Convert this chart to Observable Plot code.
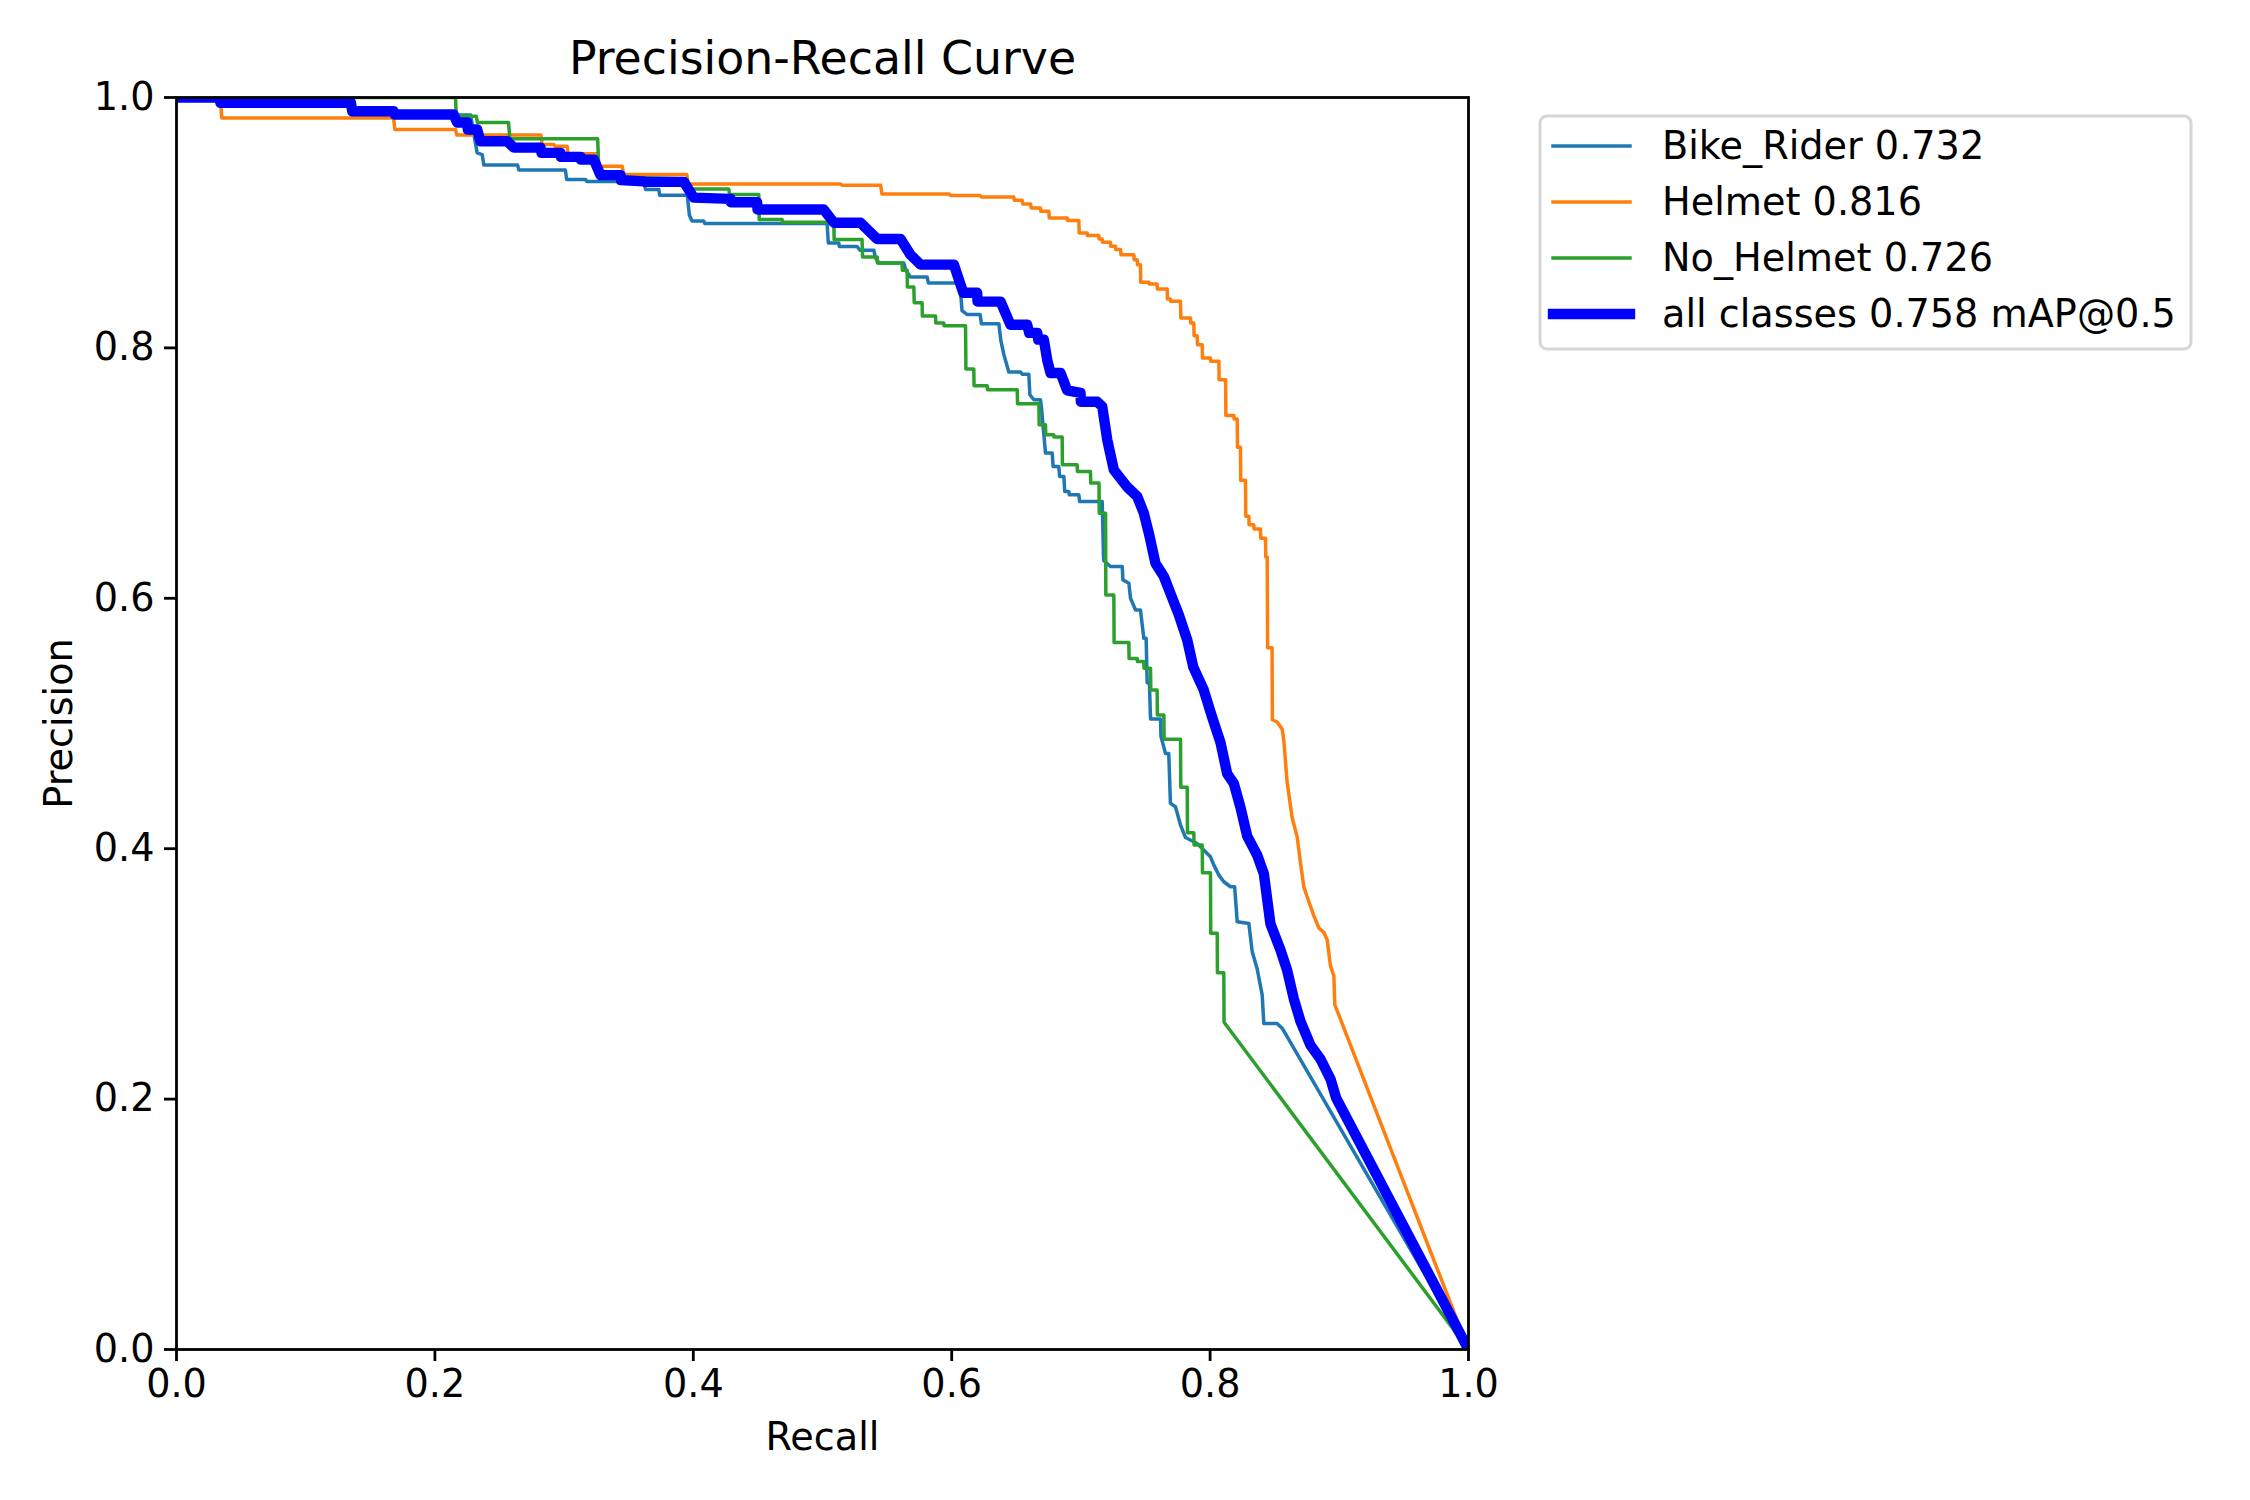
<!DOCTYPE html>
<html>
<head>
<meta charset="utf-8">
<script src="https://cdn.jsdelivr.net/npm/d3@7"></script>
<script src="https://cdn.jsdelivr.net/npm/@observablehq/plot@0.6"></script>
<style>
  html, body { margin: 0; padding: 0; background: white; }
  #chart { width: 2250px; height: 1500px; }
</style>
</head>
<body>
<div id="chart"></div>
<script>
// ---- Data (recall, precision) ----
const classNames = ["Bike_Rider", "Helmet", "No_Helmet"];
const classAP = [0.732, 0.816, 0.726];
const allClassesLabel = "all classes";
const allClassesMAP = 0.758;
const mapSuffix = "mAP@0.5";
const xTicks = [0, 0.2, 0.4, 0.6, 0.8, 1.0];
const yTicks = [0, 0.2, 0.4, 0.6, 0.8, 1.0];

const bikeRiderPR = [
[0,1],[0.135,1],[0.136,0.986],[0.2276,0.986],[0.2327,0.9558],[0.2366,0.9544],[0.2379,0.946],[0.264,0.946],[0.265,0.942],[0.301,0.942],[0.302,0.9345],[0.3166,0.9345],[0.3175,0.933],[0.362,0.933],[0.363,0.9265],[0.3733,0.9265],[0.374,0.922],[0.3953,0.922],[0.397,0.906],[0.399,0.9013],[0.408,0.9013],[0.409,0.8993],[0.5036,0.8993],[0.5045,0.8838],[0.5126,0.8838],[0.513,0.881],[0.5268,0.881],[0.529,0.878],[0.5397,0.878],[0.541,0.872],[0.5436,0.8678],[0.5629,0.8678],[0.5645,0.862],[0.568,0.8566],[0.581,0.8566],[0.582,0.8518],[0.6055,0.8518],[0.607,0.843],[0.608,0.8297],[0.612,0.8266],[0.622,0.8266],[0.623,0.8193],[0.6365,0.8193],[0.638,0.806],[0.6403,0.795],[0.6442,0.7807],[0.6533,0.7807],[0.6545,0.779],[0.6597,0.779],[0.6605,0.7626],[0.6636,0.7586],[0.6687,0.7586],[0.6695,0.752],[0.6726,0.716],[0.6778,0.716],[0.6785,0.7053],[0.6829,0.7053],[0.6835,0.6973],[0.6868,0.6973],[0.6875,0.6853],[0.6907,0.6853],[0.691,0.6827],[0.6984,0.6827],[0.699,0.6773],[0.7165,0.6773],[0.7175,0.6334],[0.7178,0.630],[0.7229,0.6254],[0.732,0.6254],[0.7325,0.6147],[0.7371,0.612],[0.7384,0.600],[0.7423,0.5907],[0.7461,0.5907],[0.7487,0.568],[0.7505,0.568],[0.7513,0.5326],[0.753,0.5326],[0.7539,0.5036],[0.7616,0.5036],[0.762,0.4895],[0.7655,0.4761],[0.768,0.4761],[0.7693,0.4362],[0.7732,0.4335],[0.7771,0.4189],[0.781,0.4089],[0.79,0.4042],[0.8003,0.3935],[0.8029,0.3869],[0.8068,0.3789],[0.8106,0.3736],[0.8158,0.3696],[0.819,0.3696],[0.821,0.3416],[0.83,0.3403],[0.8326,0.3176],[0.8364,0.3042],[0.8403,0.2833],[0.8416,0.2603],[0.8519,0.2603],[0.8558,0.2566],[1,0]
];

const helmetPR = [
[0,1],[0.034,1],[0.035,0.9837],[0.168,0.9837],[0.169,0.9744],[0.216,0.9744],[0.217,0.970],[0.282,0.970],[0.283,0.9624],[0.292,0.9624],[0.293,0.961],[0.3024,0.961],[0.303,0.955],[0.326,0.955],[0.327,0.945],[0.345,0.945],[0.346,0.9385],[0.395,0.9385],[0.396,0.931],[0.514,0.931],[0.515,0.930],[0.545,0.930],[0.546,0.923],[0.598,0.923],[0.599,0.9217],[0.622,0.9217],[0.623,0.9206],[0.648,0.9206],[0.6485,0.918],[0.6545,0.918],[0.655,0.915],[0.661,0.915],[0.6615,0.9118],[0.6687,0.9118],[0.669,0.9092],[0.6752,0.9092],[0.6755,0.9038],[0.6894,0.9038],[0.6897,0.9017],[0.6984,0.9017],[0.6987,0.8918],[0.7049,0.8918],[0.705,0.8897],[0.7139,0.8897],[0.714,0.887],[0.7165,0.887],[0.7167,0.8844],[0.7229,0.8844],[0.723,0.8812],[0.7268,0.8812],[0.727,0.8785],[0.7307,0.8785],[0.731,0.8745],[0.741,0.8745],[0.7412,0.8705],[0.7436,0.8705],[0.7438,0.8665],[0.7461,0.8665],[0.7463,0.8524],[0.7526,0.8524],[0.7528,0.851],[0.759,0.851],[0.7592,0.8471],[0.7668,0.8471],[0.767,0.8391],[0.7693,0.8391],[0.7695,0.8372],[0.7771,0.8372],[0.7773,0.8239],[0.7848,0.8239],[0.785,0.8199],[0.7874,0.8199],[0.7876,0.8097],[0.79,0.8097],[0.7902,0.8026],[0.7939,0.8026],[0.7941,0.7919],[0.8003,0.7919],[0.8005,0.7893],[0.8068,0.7893],[0.807,0.7746],[0.812,0.7746],[0.8122,0.7461],[0.8184,0.7461],[0.8186,0.7432],[0.821,0.7432],[0.8212,0.7206],[0.8235,0.7206],[0.8237,0.6942],[0.8274,0.6942],[0.8276,0.6655],[0.83,0.6655],[0.8302,0.6587],[0.8338,0.6587],[0.834,0.6554],[0.839,0.6554],[0.8392,0.648],[0.8429,0.648],[0.8431,0.633],[0.8442,0.633],[0.8445,0.5605],[0.848,0.5605],[0.8482,0.503],[0.8519,0.5012],[0.8558,0.4955],[0.8571,0.486],[0.8596,0.4534],[0.8635,0.4247],[0.8674,0.4094],[0.87,0.3883],[0.8726,0.3693],[0.8751,0.3616],[0.8803,0.3463],[0.8842,0.3367],[0.8881,0.333],[0.8906,0.3272],[0.8932,0.3062],[0.8958,0.2985],[0.8965,0.2755],[1,0]
];

const noHelmetPR = [
[0,1],[0.216,1],[0.2165,0.985],[0.232,0.985],[0.233,0.980],[0.257,0.980],[0.258,0.967],[0.326,0.967],[0.327,0.937],[0.395,0.935],[0.396,0.927],[0.4275,0.927],[0.428,0.9225],[0.4507,0.9225],[0.451,0.9025],[0.4688,0.9025],[0.469,0.9004],[0.5088,0.9004],[0.509,0.8865],[0.5306,0.8865],[0.531,0.8727],[0.5423,0.8727],[0.5425,0.8678],[0.5616,0.8678],[0.5618,0.862],[0.5655,0.862],[0.5657,0.8486],[0.5707,0.8486],[0.571,0.836],[0.5771,0.836],[0.5773,0.8254],[0.5875,0.8254],[0.5877,0.8199],[0.5939,0.8199],[0.594,0.8177],[0.6107,0.8177],[0.611,0.7831],[0.6171,0.7831],[0.6173,0.7698],[0.6275,0.7698],[0.6277,0.7666],[0.6507,0.7666],[0.651,0.7554],[0.6675,0.7554],[0.6677,0.7386],[0.6726,0.7386],[0.6728,0.7306],[0.679,0.7306],[0.6792,0.7288],[0.6855,0.7288],[0.6857,0.7066],[0.6971,0.7066],[0.6973,0.7013],[0.7074,0.7013],[0.7076,0.692],[0.714,0.692],[0.7142,0.668],[0.7191,0.668],[0.7193,0.6027],[0.7255,0.6027],[0.7257,0.5647],[0.7371,0.5647],[0.7373,0.552],[0.7436,0.552],[0.7438,0.5495],[0.7487,0.5495],[0.7489,0.5441],[0.7539,0.5441],[0.7541,0.5268],[0.759,0.5268],[0.7592,0.5068],[0.7642,0.5068],[0.7644,0.4874],[0.7771,0.4874],[0.7773,0.449],[0.7823,0.449],[0.7825,0.4127],[0.7874,0.4127],[0.7876,0.4029],[0.7939,0.4029],[0.7941,0.3808],[0.8003,0.3808],[0.8005,0.3325],[0.8055,0.3325],[0.8057,0.301],[0.8106,0.301],[0.8108,0.2614],[1,0]
];

const allClassesPR = [
[0,1],[0.033,1],[0.034,0.9958],[0.135,0.9958],[0.136,0.989],[0.168,0.989],[0.169,0.9864],[0.2145,0.9864],[0.2172,0.98],[0.225,0.98],[0.2255,0.9744],[0.2327,0.9744],[0.2353,0.965],[0.256,0.965],[0.261,0.96],[0.2817,0.96],[0.2825,0.9558],[0.2972,0.9558],[0.2975,0.9526],[0.3127,0.9526],[0.313,0.9504],[0.323,0.9504],[0.3282,0.938],[0.3437,0.938],[0.344,0.934],[0.3617,0.933],[0.362,0.9326],[0.3927,0.9326],[0.4004,0.92],[0.4288,0.919],[0.429,0.9163],[0.4494,0.9163],[0.4497,0.9105],[0.501,0.9105],[0.5088,0.9],[0.5294,0.9],[0.5423,0.887],[0.5604,0.887],[0.568,0.8745],[0.5759,0.8665],[0.6017,0.8665],[0.609,0.844],[0.6197,0.844],[0.62,0.837],[0.6378,0.837],[0.6455,0.8185],[0.6584,0.8185],[0.66,0.812],[0.6662,0.812],[0.667,0.8066],[0.6713,0.8066],[0.674,0.79],[0.6765,0.78],[0.6842,0.78],[0.6894,0.766],[0.6997,0.764],[0.7,0.757],[0.7126,0.757],[0.7165,0.7532],[0.7204,0.7266],[0.7255,0.7026],[0.7358,0.689],[0.7436,0.6813],[0.7487,0.668],[0.7526,0.652],[0.7577,0.628],[0.7642,0.6174],[0.7693,0.604],[0.7758,0.5867],[0.7823,0.5667],[0.787,0.545],[0.795,0.527],[0.8016,0.505],[0.808,0.485],[0.8132,0.46],[0.8184,0.452],[0.8235,0.433],[0.8287,0.41],[0.8364,0.395],[0.8416,0.38],[0.8467,0.34],[0.8545,0.319],[0.8596,0.303],[0.8648,0.28],[0.87,0.262],[0.8777,0.243],[0.8854,0.232],[0.8932,0.216],[0.8975,0.201],[1,0]
];

// ---- Styling ----
const classColors = ["#1f77b4", "#ff7f0e", "#2ca02c"];
const allColor = "#0000ff";
const fontFamily = "'DejaVu Sans', sans-serif";
const FS = 38.2;
const TITLE_FS = 45.8;

const classSeries = [bikeRiderPR, helmetPR, noHelmetPR];
const lineMarks = classSeries.map((data, i) =>
  Plot.line(data, {
    x: d => d[0], y: d => d[1],
    stroke: classColors[i], strokeWidth: 3.5,
    strokeLinejoin: "round", strokeLinecap: "square", clip: true
  })
);

const plot = Plot.plot({
  width: 2250,
  height: 1500,
  marginLeft: 176,
  marginRight: 782,
  marginTop: 97,
  marginBottom: 151,
  style: { fontFamily, fontSize: FS + "px", color: "black", background: "white" },
  x: { domain: [0, 1] },
  y: { domain: [0, 1] },
  marks: [
    ...lineMarks,
    Plot.line(allClassesPR, {
      x: d => d[0], y: d => d[1],
      stroke: allColor, strokeWidth: 10.4,
      strokeLinejoin: "round", strokeLinecap: "square", clip: true
    }),
    Plot.frame({ stroke: "black", strokeWidth: 2.8 }),
    Plot.axisX({ ticks: xTicks, tickFormat: d3.format(".1f"), tickSize: 12, tickPadding: 8,
                 fontSize: FS, strokeWidth: 2.8, label: null }),
    Plot.axisY({ ticks: yTicks, tickFormat: d3.format(".1f"), tickSize: 12, tickPadding: 10,
                 fontSize: FS, strokeWidth: 2.8, label: null }),
    Plot.text(["Precision-Recall Curve"], { text: d => d, frameAnchor: "top", dy: -38,
                 lineAnchor: "middle", fontSize: TITLE_FS }),
    Plot.text(["Recall"], { text: d => d, frameAnchor: "bottom", dy: 88,
                 lineAnchor: "middle", fontSize: FS }),
    Plot.text(["Precision"], { text: d => d, frameAnchor: "left", dx: -117, rotate: -90,
                 lineAnchor: "middle", textAnchor: "middle", fontSize: FS })
  ]
});

// ---- Legend ----
const svg = d3.select(plot);
const lg = svg.append("g").attr("font-family", fontFamily).attr("font-size", FS)
  .attr("text-anchor", "start");
lg.append("rect")
  .attr("x", 1540).attr("y", 116).attr("width", 651).attr("height", 233)
  .attr("rx", 7).attr("fill", "white").attr("stroke", "#d6d6d6").attr("stroke-width", 3);
const legendItems = classNames.map((n, i) => ({
  label: `${n} ${classAP[i].toFixed(3)}`, color: classColors[i], width: 3.5
})).concat([{ label: `${allClassesLabel} ${allClassesMAP.toFixed(3)} ${mapSuffix}`, color: allColor, width: 10.4 }]);
legendItems.forEach((it, i) => {
  const cy = 146 + i * 56;
  lg.append("line").attr("x1", 1553).attr("x2", 1630).attr("y1", cy).attr("y2", cy)
    .attr("stroke", it.color).attr("stroke-width", it.width).attr("stroke-linecap", "square");
  lg.append("text").attr("x", 1662).attr("y", cy).attr("dy", "0.35em")
    .attr("text-anchor", "start").attr("fill", "black").text(it.label);
});

document.getElementById("chart").appendChild(plot);
</script>
</body>
</html>
